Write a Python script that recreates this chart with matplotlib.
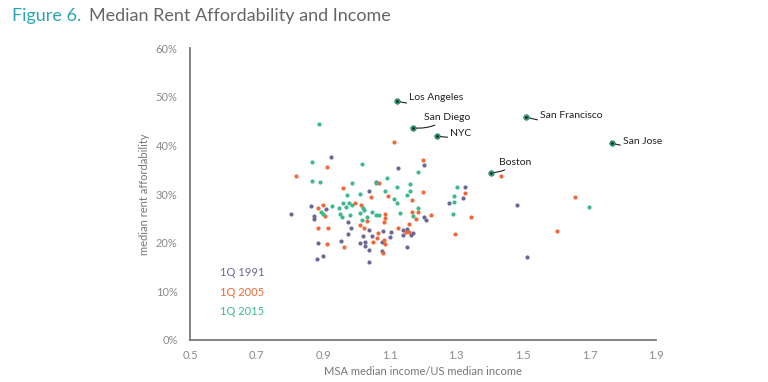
import matplotlib
matplotlib.use("Agg")
import matplotlib.pyplot as plt
from matplotlib.ticker import FuncFormatter

plt.rcParams['font.family'] = ['Lato', 'DejaVu Sans']

# MSA median income / US median income, median rent affordability (%)
x_1991 = [0.924, 0.802, 0.862, 0.873, 0.873, 0.908, 1.126, 1.059, 1.038, 0.974,
          0.983, 1.038, 0.974, 0.953, 0.885, 0.900, 0.881, 1.019, 1.011, 1.025,
          1.025, 1.038, 1.038, 1.079, 1.104, 1.101, 1.046, 1.076, 1.076, 1.139,
          1.153, 1.169, 1.163, 1.139, 1.153, 1.203, 1.203, 1.208, 1.278, 1.326,
          1.320, 1.482, 1.513]
y_1991 = [37.6, 25.8, 27.5, 25.5, 24.9, 26.9, 35.4, 32.5, 30.6, 24.3,
          23.1, 22.7, 21.8, 20.4, 19.9, 17.3, 16.6, 21.4, 20.0, 20.2,
          19.3, 18.5, 16.0, 22.4, 22.3, 21.2, 21.4, 20.1, 18.3, 22.6,
          22.8, 21.9, 21.6, 21.6, 19.2, 36.0, 25.3, 24.6, 28.2, 31.5,
          29.1, 27.7, 17.0]

x_2005 = [0.818, 0.912, 0.900, 0.886, 0.905, 0.886, 0.914, 0.913, 0.962, 0.959,
          0.996, 1.014, 1.011, 1.023, 1.032, 1.045, 1.069, 1.086, 1.086, 1.083,
          1.094, 1.065, 1.061, 1.083, 1.086, 1.080, 1.050, 1.124, 1.149, 1.159,
          1.159, 1.166, 1.167, 1.179, 1.186, 1.113, 1.201, 1.200, 1.223, 1.296,
          1.326, 1.344, 1.433, 1.656, 1.604]
y_2005 = [33.8, 35.5, 27.8, 27.1, 25.5, 23.1, 23.1, 19.8, 19.2, 31.2,
          28.2, 27.7, 23.7, 23.0, 24.5, 29.3, 32.3, 25.9, 25.0, 24.2,
          29.6, 22.0, 20.9, 20.5, 19.7, 17.8, 20.2, 23.0, 22.2, 22.2,
          23.8, 28.7, 26.4, 24.9, 26.4, 40.8, 37.0, 30.5, 25.6, 21.7,
          30.3, 25.2, 33.8, 29.4, 22.4]

x_2015 = [0.888, 0.867, 1.018, 0.865, 0.892, 0.987, 1.091, 0.971, 1.012, 1.059,
          1.086, 1.123, 1.161, 1.161, 1.153, 1.114, 1.123, 0.927, 0.947, 0.959,
          0.969, 0.977, 0.986, 0.895, 0.900, 0.951, 0.957, 0.980, 1.019, 1.023,
          1.011, 1.031, 1.048, 1.059, 1.069, 1.018, 1.132, 1.184, 1.171, 1.186,
          1.301, 1.293, 1.293, 1.289, 1.700]
y_2015 = [44.5, 36.6, 36.2, 32.6, 32.4, 32.2, 33.4, 29.9, 30.0, 32.2,
          30.7, 31.5, 32.1, 30.6, 29.9, 28.9, 28.2, 27.6, 27.2, 28.1,
          27.4, 28.1, 27.7, 26.3, 25.8, 25.9, 25.2, 25.7, 27.1, 26.7,
          26.2, 25.3, 26.3, 25.7, 25.7, 24.7, 26.1, 27.1, 25.5, 34.6,
          31.4, 29.6, 28.4, 25.9, 27.4]

cities = ['Los Angeles', 'San Diego', 'NYC', 'San Francisco', 'San Jose', 'Boston']
city_x = [1.123, 1.171, 1.243, 1.510, 1.768, 1.405]
city_y = [49.1, 43.6, 42.0, 45.9, 40.5, 34.4]
# label offsets in pixels (dx, dy)
city_off = [(12, 4), (11, 10), (13, 2), (14, 1), (11, 1), (8, 10)]

c91 = '#6c6896'
c05 = '#f0683a'
c15 = '#3db98b'
grey = '#7a7a7a'

fig = plt.figure(figsize=(7.68, 3.82), dpi=100)
ax = fig.add_axes([0.2474, 0.110, 0.6068, 0.764])

ax.scatter(x_1991, y_1991, s=9, color=c91, linewidths=0, zorder=3)
ax.scatter(x_2005, y_2005, s=9, color=c05, linewidths=0, zorder=3)
ax.scatter(x_2015, y_2015, s=9, color=c15, linewidths=0, zorder=3)

ax.scatter(city_x, city_y, s=16, color='#2fa577', edgecolors='#1f6e50',
           linewidths=0.4, zorder=4)
ax.scatter(city_x, city_y, s=3, color='black', linewidths=0, zorder=5)

for name, cx, cy, (dx, dy) in zip(cities, city_x, city_y, city_off):
    ax.annotate(name, (cx, cy), xytext=(dx, dy), textcoords='offset pixels',
                fontsize=7.5, color='#222222', ha='left', va='center',
                arrowprops=dict(arrowstyle='-', color='#222222', lw=0.8,
                                shrinkA=0, shrinkB=1,
                                connectionstyle='arc3,rad=-0.2'))

ax.set_xlim(0.5, 1.9)
ax.set_ylim(0, 60)
ax.set_xticks([0.5, 0.7, 0.9, 1.1, 1.3, 1.5, 1.7, 1.9])
ax.set_yticks([0, 10, 20, 30, 40, 50, 60])
ax.xaxis.set_major_formatter(FuncFormatter(lambda v, p: f'{v:.1f}'))
ax.yaxis.set_major_formatter(FuncFormatter(lambda v, p: f'{v:.0f}%'))
ax.tick_params(length=0, labelsize=8, labelcolor='#8a8a8a')
ax.tick_params(axis='y', pad=9)
ax.tick_params(axis='x', pad=7)

for s in ['top', 'right']:
    ax.spines[s].set_visible(False)
for s in ['left', 'bottom']:
    ax.spines[s].set_color(grey)
    ax.spines[s].set_linewidth(1.3)

ax.set_xlabel('MSA median income/US median income', fontsize=8, color='#777777', labelpad=4)
ax.set_ylabel('median rent affordability', fontsize=8, color='#777777', labelpad=4)

ax.text(0.59, 13.8, '1Q 1991', color=c91, fontsize=8, va='center')
ax.text(0.59, 9.8, '1Q 2005', color=c05, fontsize=8, va='center')
ax.text(0.59, 5.8, '1Q 2015', color=c15, fontsize=8, va='center')

fig.text(12 / 768, 1 - 16 / 382, 'Figure 6.', color='#2aa5b3', fontsize=13, va='center')
fig.text(89 / 768, 1 - 16 / 382, 'Median Rent Affordability and Income', color='#666666',
         fontsize=13, va='center')

fig.savefig('out.png', dpi=100)
